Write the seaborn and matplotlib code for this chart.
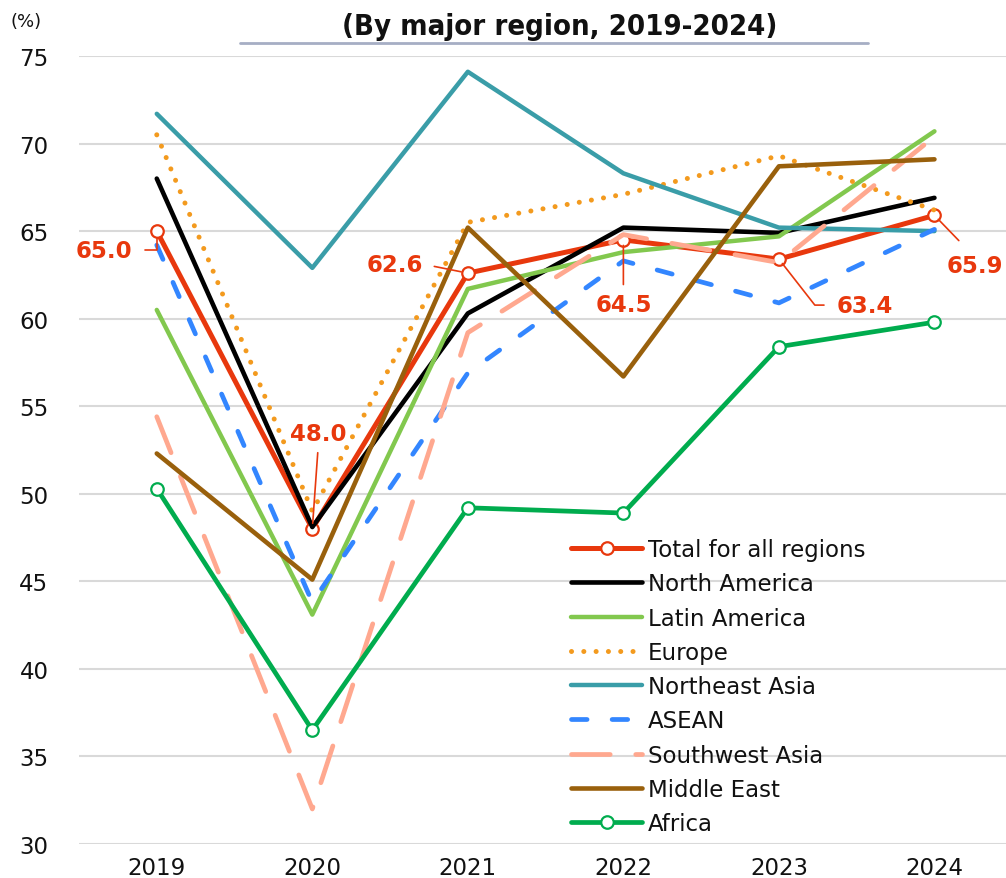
import numpy as np
import pandas as pd
import seaborn as sns
import matplotlib.pyplot as plt
from matplotlib.lines import Line2D

years = [2019, 2020, 2021, 2022, 2023, 2024]

total = [65.0, 48.0, 62.6, 64.5, 63.4, 65.9]
north_america = [68.0, 48.1, 60.3, 65.2, 64.9, 66.9]
latin_america = [60.5, 43.1, 61.7, 63.8, 64.7, 70.7]
europe = [70.5, 49.0, 65.5, 67.1, 69.3, 66.2]
northeast_asia = [71.7, 62.9, 74.1, 68.3, 65.2, 65.0]
asean = [64.2, 43.8, 56.9, 63.3, 60.9, 65.1]
southwest_asia = [54.4, 32.0, 59.2, 64.8, 63.2, 70.4]
middle_east = [52.3, 45.1, 65.2, 56.7, 68.7, 69.1]
africa = [50.3, 36.5, 49.2, 48.9, 58.4, 59.8]

series_names = ['Total for all regions', 'North America', 'Latin America', 'Europe',
                'Northeast Asia', 'ASEAN', 'Southwest Asia', 'Middle East', 'Africa']
series_values = [total, north_america, latin_america, europe, northeast_asia,
                 asean, southwest_asia, middle_east, africa]

red = '#E8380D'
styles = {
    'Total for all regions': dict(color=red, lw=3.6, marker='o'),
    'North America': dict(color='black', lw=3.3),
    'Latin America': dict(color='#82C84E', lw=3.2),
    'Europe': dict(color='#F39A1E', lw=3.6, linestyle=(0, (0.01, 2.45)),
                   dash_capstyle='round'),
    'Northeast Asia': dict(color='#3A9DA8', lw=3.2),
    'ASEAN': dict(color='#3386FF', lw=3.4, linestyle=(0, (3.3, 5.3)),
                  dash_capstyle='round'),
    'Southwest Asia': dict(color='#FFA88F', lw=3.4, linestyle=(0, (8.2, 5.4)),
                           dash_capstyle='round'),
    'Middle East': dict(color='#99600C', lw=3.3),
    'Africa': dict(color='#00AC4E', lw=3.4, marker='o'),
}

sns.set_style('white')
plt.rcParams['font.family'] = ['DejaVu Sans']

fig = plt.figure(figsize=(10.06, 8.79), dpi=100)
ax = fig.add_axes([79 / 1006, 34 / 879, 1 - 79 / 1006, (845 - 57) / 879])

for name, vals in zip(series_names, series_values):
    st = dict(styles[name])
    extra = {}
    if st.get('marker'):
        extra = dict(markersize=9, markerfacecolor='white',
                     markeredgecolor=st['color'], markeredgewidth=1.6)
    sns.lineplot(x=years, y=vals, ax=ax, label=name, errorbar=None,
                 solid_capstyle='round', **st, **extra)

ax.set_xlim(2018.5, 2024.46)
ax.set_ylim(30, 75)
ax.set_yticks(np.arange(30, 76, 5))
ax.set_xticks(years)
ax.set_xticklabels([str(y) for y in years])
ax.grid(axis='y', color='#D9D9D9', lw=1.5)
ax.grid(axis='x', visible=False)
ax.set_axisbelow(True)
for s in ax.spines.values():
    s.set_visible(False)
ax.tick_params(axis='both', length=0, labelsize=16.5, colors='#111111')
ax.tick_params(axis='y', pad=22)
ax.tick_params(axis='x', pad=9)
ax.set_xlabel('')
ax.set_ylabel('')

# data labels for the total line
label_kw = dict(textcoords='offset points', fontsize=16.5, fontweight='bold', color=red)
ax.annotate('65.0', (2019, total[0]), xytext=(-18, -13.7), ha='right', va='center',
            arrowprops=dict(arrowstyle='-', color=red, lw=1.2, relpos=(1, 0.5),
                            shrinkA=7, shrinkB=5,
                            connectionstyle='angle,angleA=0,angleB=90,rad=0'),
            **label_kw)
ax.annotate('48.0', (2020, total[1]), xytext=(4.3, 68.4), ha='center', va='center',
            arrowprops=dict(arrowstyle='-', color=red, lw=1.2, relpos=(0.5, 0),
                            shrinkA=3, shrinkB=4),
            **label_kw)
ax.annotate('62.6', (2021, total[2]), xytext=(-32.4, 6.5), ha='right', va='center',
            arrowprops=dict(arrowstyle='-', color=red, lw=1.2, relpos=(1, 0.5),
                            shrinkA=6, shrinkB=5),
            **label_kw)
ax.annotate('64.5', (2022, total[3]), xytext=(0, -46.8), ha='center', va='center',
            arrowprops=dict(arrowstyle='-', color=red, lw=1.2, relpos=(0.5, 1),
                            shrinkA=4, shrinkB=4),
            **label_kw)
ax.annotate('63.4', (2023, total[4]), xytext=(41.8, -33.1), ha='left', va='center',
            arrowprops=dict(arrowstyle='-', color=red, lw=1.2, relpos=(0, 0.5),
                            shrinkA=7, shrinkB=4,
                            connectionstyle='angle,angleA=0,angleB=128,rad=0'),
            **label_kw)
ax.annotate('65.9', (2024, total[5]), xytext=(28.8, -36), ha='center', va='center',
            arrowprops=dict(arrowstyle='-', color=red, lw=1.2, relpos=(0.45, 1),
                            shrinkA=10, shrinkB=4),
            **label_kw)

handles, labels = ax.get_legend_handles_labels()
leg = ax.legend(handles, labels, loc='upper left',
                bbox_to_anchor=(562 / 1006, 1 - 530 / 879),
                bbox_transform=fig.transFigure, frameon=False, fontsize=16.5,
                handlelength=3.1, handletextpad=0.25, labelspacing=0.49,
                borderaxespad=0, labelcolor='#111111')

fig.text(560 / 1006, 1 - 27 / 879, '(By major region, 2019-2024)', ha='center', va='center',
         fontsize=21, fontweight='bold', fontstretch='condensed', color='#111111')
fig.add_artist(Line2D([240 / 1006, 868 / 1006], [1 - 44 / 879] * 2,
                      transform=fig.transFigure, color='#A6AEC4', lw=2))
fig.text(10 / 1006, 1 - 22 / 879, '(%)', ha='left', va='center', fontsize=13,
         color='#111111')

fig.savefig('out.png', dpi=100)
